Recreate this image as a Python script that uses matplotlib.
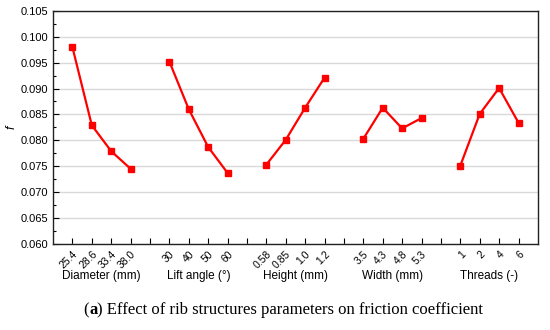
import matplotlib
matplotlib.use("Agg")
import matplotlib.pyplot as plt
from matplotlib.ticker import MultipleLocator

plt.rcParams['font.family'] = ['Liberation Sans', 'DejaVu Sans']

groups = ["Diameter (mm)", "Lift angle (°)", "Height (mm)", "Width (mm)", "Threads (-)"]
diameter_labels = ["25.4", "28.6", "33.4", "38.0"]
lift_labels = ["30", "40", "50", "60"]
height_labels = ["0.58", "0.85", "1.0", "1.2"]
width_labels = ["3.5", "4.3", "4.8", "5.3"]
threads_labels = ["1", "2", "4", "6"]

diameter_f = [0.0980, 0.0829, 0.0779, 0.0745]
lift_f = [0.0952, 0.0860, 0.0787, 0.0737]
height_f = [0.0753, 0.0801, 0.0863, 0.0921]
width_f = [0.0803, 0.0863, 0.0823, 0.0843]
threads_f = [0.0751, 0.0851, 0.0901, 0.0834]

all_labels = [diameter_labels, lift_labels, height_labels, width_labels, threads_labels]
all_f = [diameter_f, lift_f, height_f, width_f, threads_f]

fig = plt.figure(figsize=(5.5, 3.3), dpi=100)
ax = fig.add_axes([0.0964, 0.261, 0.978 - 0.0964, 0.967 - 0.261])

ticks = []
ticklabels = []
for gi, (labs, vals) in enumerate(zip(all_labels, all_f)):
    xs = [gi * 5 + 1 + i for i in range(len(vals))]
    ax.plot(xs, vals, color='#ff0000', lw=1.6, marker='s', ms=4.5, zorder=3)
    ticks.extend(xs)
    ticklabels.extend(labs)
    if gi < 4:
        ticks.append(gi * 5 + 5)
        ticklabels.append("")
    ax.text(gi * 5 + 2.5, -0.112, groups[gi], transform=ax.get_xaxis_transform(),
            ha='center', va='top', fontsize=8.5)

ax.set_xticks(ticks)
ax.set_xticklabels(ticklabels, rotation=45, ha='right', rotation_mode='anchor', fontsize=7.5)
ax.set_xlim(0, 25)
ax.set_ylim(0.060, 0.105)
ax.yaxis.set_major_locator(MultipleLocator(0.005))
ax.yaxis.set_minor_locator(MultipleLocator(0.0025))
ax.set_yticklabels([f"{v:.3f}" for v in ax.get_yticks()], fontsize=8)
ax.set_ylim(0.060, 0.105)
ax.tick_params(axis='both', direction='in', length=4, width=0.8)
ax.tick_params(axis='y', which='minor', direction='in', length=2, width=0.8)
ax.tick_params(axis='x', pad=4)
ax.grid(axis='y', color='#d9d9d9', lw=1.0, zorder=0)
for s in ax.spines.values():
    s.set_linewidth(1.0)
    s.set_color('#222222')
ax.set_ylabel("f", fontsize=9, style='italic', labelpad=2)

x0 = 0.152
y0 = 0.047
parts = [("(", 'normal'), ("a", 'bold'), (") Effect of rib structures parameters on friction coefficient", 'normal')]
renderer = fig.canvas.get_renderer()
x = x0
for txt, w in parts:
    tt = fig.text(x, y0, txt, fontsize=12, family='Liberation Serif', weight=w, va='baseline')
    bb = tt.get_window_extent(renderer=renderer)
    x += bb.width / fig.bbox.width

fig.savefig("out.png", dpi=100)
